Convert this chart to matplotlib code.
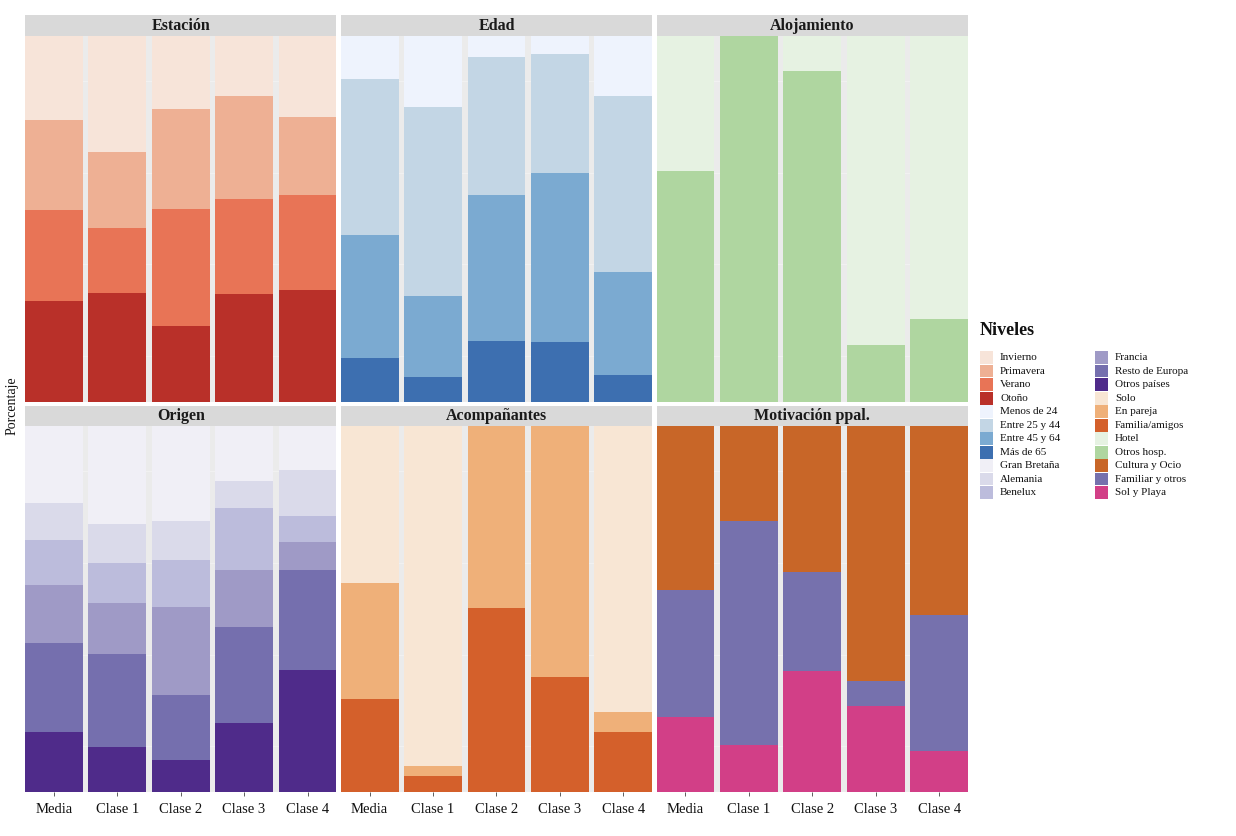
import matplotlib
matplotlib.use("Agg")
import matplotlib.pyplot as plt
from matplotlib.patches import Rectangle
import numpy as np

plt.rcParams['font.family'] = ['Liberation Serif', 'DejaVu Serif']

clases = ["Media", "Clase 1", "Clase 2", "Clase 3", "Clase 4"]

# ---- Estación ----
estacion_niveles = ["Invierno", "Primavera", "Verano", "Otoño"]
estacion_vals = [
    [23.2, 31.9, 20.1, 16.4, 22.4],
    [24.6, 20.6, 27.4, 28.3, 21.2],
    [24.7, 17.9, 31.8, 26.0, 25.9],
    [27.5, 29.6, 20.7, 29.3, 30.5],
]
estacion_cols = ["#F7E4D9", "#EEB094", "#E87456", "#B93029"]

# ---- Edad ----
edad_niveles = ["Menos de 24", "Entre 25 y 44", "Entre 45 y 64", "Más de 65"]
edad_vals = [
    [11.8, 19.4, 5.9, 5.1, 16.6],
    [42.7, 51.8, 37.7, 32.6, 48.1],
    [33.7, 22.1, 39.8, 46.1, 28.0],
    [11.8, 6.7, 16.6, 16.2, 7.3],
]
edad_cols = ["#EEF3FD", "#C3D6E5", "#7BAAD1", "#3D6FB0"]

# ---- Alojamiento ----
aloj_niveles = ["Hotel", "Otros hosp."]
aloj_vals = [
    [37.1, 0.0, 9.6, 84.5, 77.5],
    [62.9, 100.0, 90.4, 15.5, 22.5],
]
aloj_cols = ["#E6F2E2", "#AFD6A0"]

# ---- Origen ----
origen_niveles = ["Gran Bretaña", "Alemania", "Benelux", "Francia",
                  "Resto de Europa", "Otros países"]
origen_vals = [
    [21.2, 26.9, 26.1, 15.1, 12.1],
    [10.0, 10.7, 10.5, 7.3, 12.5],
    [12.2, 10.9, 12.9, 16.9, 7.2],
    [16.0, 13.9, 23.9, 15.6, 7.7],
    [24.1, 25.3, 18.0, 26.4, 27.3],
    [16.5, 12.3, 8.6, 18.7, 33.2],
]
origen_cols = ["#F0EFF6", "#DADAEA", "#BCBCDC", "#9F9AC6", "#756FAE", "#4F2B8A"]

# ---- Acompañantes ----
acomp_niveles = ["Solo", "En pareja", "Familia/amigos"]
acomp_vals = [
    [42.9, 92.9, 0.0, 0.0, 78.3],
    [31.7, 2.6, 49.7, 68.6, 5.2],
    [25.4, 4.5, 50.3, 31.4, 16.5],
]
acomp_cols = ["#F8E6D4", "#EFB079", "#D4602B"]

# ---- Motivación ----
motiv_niveles = ["Cultura y Ocio", "Familiar y otros", "Sol y Playa"]
motiv_vals = [
    [45.0, 26.1, 40.1, 69.6, 51.8],
    [34.4, 61.0, 27.0, 6.9, 37.1],
    [20.6, 12.9, 32.9, 23.5, 11.1],
]
motiv_cols = ["#C86628", "#7671AD", "#D23F87"]

facets = [
    ("Estación", estacion_niveles, estacion_vals, estacion_cols),
    ("Edad", edad_niveles, edad_vals, edad_cols),
    ("Alojamiento", aloj_niveles, aloj_vals, aloj_cols),
    ("Origen", origen_niveles, origen_vals, origen_cols),
    ("Acompañantes", acomp_niveles, acomp_vals, acomp_cols),
    ("Motivación ppal.", motiv_niveles, motiv_vals, motiv_cols),
]

# order of groups in the legend
legend_order = [
    (estacion_niveles, estacion_cols),
    (edad_niveles, edad_cols),
    (origen_niveles, origen_cols),
    (acomp_niveles, acomp_cols),
    (aloj_niveles, aloj_cols),
    (motiv_niveles, motiv_cols),
]

W, H = 1236, 836
fig = plt.figure(figsize=(W / 100, H / 100), dpi=100)

col_x = [25, 340.8, 656.6]
panel_w = 311.4
row_panel = [(35.5, 401.5), (425.5, 792.0)]
row_strip = [(15.0, 35.5), (405.5, 425.5)]

x = np.arange(1, len(clases) + 1)
bar_w = 0.91

for idx, (title, niveles, vals, cols) in enumerate(facets):
    r, c = divmod(idx, 3)
    x0 = col_x[c]
    ptop, pbot = row_panel[r]
    ax = fig.add_axes([x0 / W, 1 - pbot / H, panel_w / W, (pbot - ptop) / H])
    ax.set_facecolor("#EBEBEB")
    ax.set_axisbelow(True)
    for gy in [12.5, 37.5, 62.5, 87.5]:
        ax.axhline(gy, color="#F3F3F3", lw=0.6, zorder=0)
    bottom = np.zeros(len(clases))
    for lev_vals, col in zip(reversed(vals), reversed(cols)):
        v = np.array(lev_vals)
        ax.bar(x, v, bottom=bottom, width=bar_w, color=col, linewidth=0, zorder=2)
        bottom += v
    ax.set_xlim(1 - bar_w / 2, len(clases) + bar_w / 2)
    ax.set_ylim(0, 100)
    ax.set_yticks([])
    for s in ax.spines.values():
        s.set_visible(False)
    if r == 1:
        ax.set_xticks(x)
        ax.set_xticklabels(clases, fontsize=10.5, color="#111111")
        ax.tick_params(axis="x", length=3, width=0.6, color="#444444", pad=5)
    else:
        ax.set_xticks([])

    stop, sbot = row_strip[r]
    sax = fig.add_axes([x0 / W, 1 - sbot / H, panel_w / W, (sbot - stop) / H])
    sax.set_facecolor("#D9D9D9")
    sax.set_xticks([]); sax.set_yticks([])
    for s in sax.spines.values():
        s.set_visible(False)
    sax.text(0.5, 0.47, title, ha="center", va="center", fontsize=11.5,
             fontweight="bold", color="#1A1A1A", transform=sax.transAxes)

fig.text(12 / W, 1 - 406 / H, "Porcentaje", rotation=90, ha="center",
         va="center", fontsize=10, color="#111111")

# Legend
fig.text(980 / W, 1 - 331 / H, "Niveles", fontsize=13, fontweight="bold",
         va="center", ha="left", color="#111111")
all_labels = []
all_cols = []
for niveles, cols in legend_order:
    all_labels += niveles
    all_cols += cols
key_x = [980, 1095]
for i, (lab, col) in enumerate(zip(all_labels, all_cols)):
    cc, rr = divmod(i, 11)
    yc = 357.7 + rr * 13.5
    kx = key_x[cc]
    fig.add_artist(Rectangle((kx / W, 1 - (yc + 6.3) / H), 13 / W, 12.6 / H,
                             transform=fig.transFigure, facecolor=col,
                             edgecolor="none"))
    fig.text((kx + 20) / W, 1 - yc / H, lab, fontsize=8, va="center",
             ha="left", color="#111111")

fig.savefig("out.png", dpi=100, facecolor="white")
